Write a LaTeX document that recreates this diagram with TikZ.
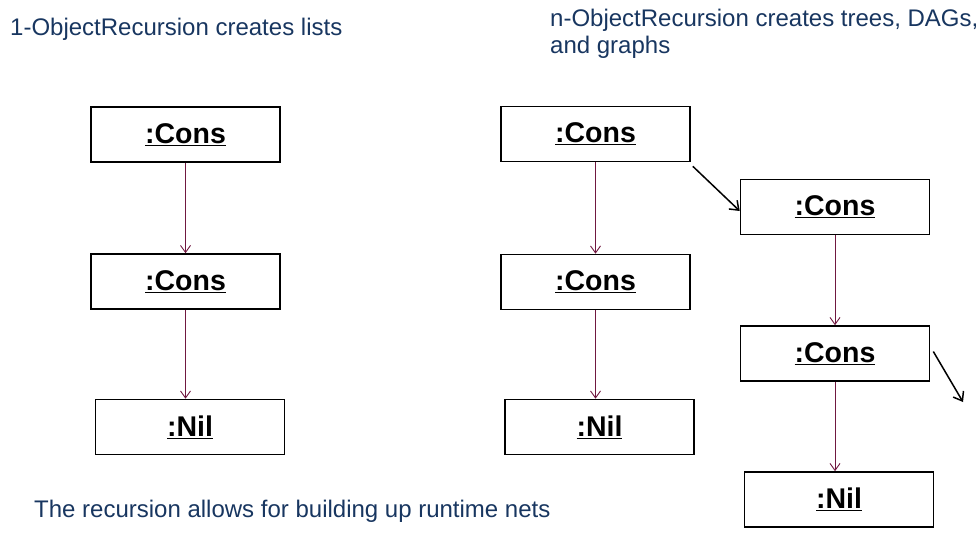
\documentclass[tikz,border=0pt]{standalone}
\usepackage{fontspec}
\setmainfont{Liberation Sans}
\usetikzlibrary{arrows.meta}
\definecolor{titleblue}{RGB}{24,54,96}
\definecolor{linkred}{RGB}{112,24,64}
\begin{document}
\begin{tikzpicture}[x=1pt,y=-1pt,
  obj/.style={draw, line width=1.6pt, minimum width=189pt, minimum height=55pt, inner sep=0pt,
    font=\fontsize{28.5}{32}\selectfont\bfseries},
  link/.style={draw=linkred, line width=0.9pt, -{Straight Barb[length=7pt,width=10pt]}},
  ref/.style={draw=black, line width=1.5pt, -{Straight Barb[length=8pt,width=12pt]}},
  caption/.style={anchor=base west, inner sep=0pt, text=titleblue, font=\fontsize{24}{27}\selectfont, align=left}
]
\useasboundingbox (0,0) rectangle (976,538);
% captions
\node[caption] (t1) at (10,35) {1-ObjectRecursion creates lists};
\node[caption] (t2) at (550,26) {n-ObjectRecursion creates trees, DAGs,};
\node[caption] (t3) at (550,53) {and graphs};
\node[caption] (t4) at (34,517) {The recursion allows for building up runtime nets};
% left list
\node[obj] (l1) at (185.5,134.5) {\underline{:Cons}};
\node[obj] (l2) at (185.5,281.5) {\underline{:Cons}};
\node[obj] (l3) at (190,427) {\underline{:Nil}};
% right tree
\node[obj] (a1) at (595.5,134) {\underline{:Cons}};
\node[obj] (a2) at (595.5,282) {\underline{:Cons}};
\node[obj] (a3) at (599.5,427) {\underline{:Nil}};
\node[obj] (b1) at (835,207) {\underline{:Cons}};
\node[obj] (b2) at (835,353.5) {\underline{:Cons}};
\node[obj] (b3) at (839,499.5) {\underline{:Nil}};
\coordinate (free) at (963,402);
% links
\draw[link] (l1.south) -- (l1.south |- l2.north);
\draw[link] (l2.south) -- (l2.south |- l3.north);
\draw[link] (a1.south) -- (a1.south |- a2.north);
\draw[link] (a2.south) -- (a2.south |- a3.north);
\draw[link] (b1.south) -- (b1.south |- b2.north);
\draw[link] (b2.south) -- (b2.south |- b3.north);
\draw[ref] ([shift={(2,4)}]a1.south east) -- ([yshift=-4]b1.west);
\draw[ref] ([shift={(3,-2)}]b2.east) -- (free);
\end{tikzpicture}
\end{document}
